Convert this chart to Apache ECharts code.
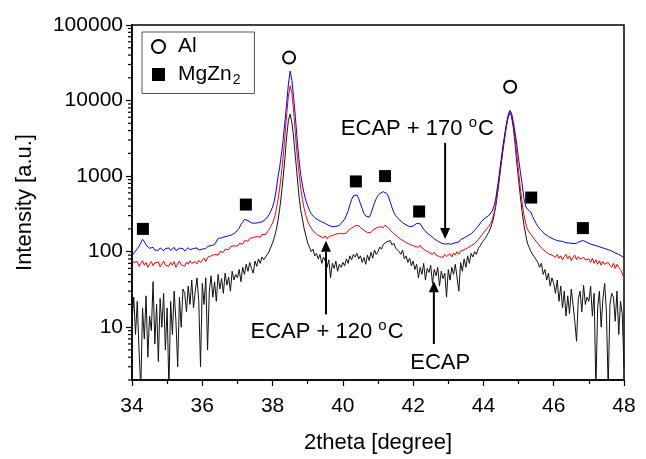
<!DOCTYPE html>
<html><head><meta charset="utf-8">
<script src="https://cdn.jsdelivr.net/npm/echarts@6/dist/echarts.min.js"></script>
<style>html,body{margin:0;padding:0;background:#fff}#c{width:646px;height:459px}</style>
</head><body><div id="c"></div>
<script>
// 2theta sampling grid
const xStart = 34, xStep = 0.05;

// ECAP + 170 oC (blue)
const ecap170 = [
 88,95,102,109,118,131,146,137,122,115,111,107,114,105,110,104,112,108,103,110,
 106,112,104,109,114,103,108,111,105,110,102,108,113,106,104,110,107,112,105,109,
 108,114,110,117,112,120,116,124,128,150,146,152,148,158,155,162,158,168,172,180,
 192,205,228,245,268,275,258,246,240,232,238,245,242,236,248,255,268,285,310,345,
 390,470,640,950,1300,1900,3000,5200,9000,16500,24500,18500,11000,6000,3000,1700,1050,760,580,470,
 405,352,318,305,282,278,262,268,248,252,236,240,222,230,214,224,216,228,222,238,
 245,268,302,348,418,492,548,572,562,505,432,372,322,296,282,286,318,378,442,502,
 552,588,608,622,612,588,528,452,382,330,302,284,266,254,242,232,226,218,214,212,
 218,228,236,247,234,222,198,190,176,172,163,160,148,147,138,138,130,133,126,131,
 127,129,126,131,132,136,134,144,143,152,154,162,161,172,176,192,198,217,230,252,
 265,280,290,300,315,345,400,500,720,1050,1600,2400,3400,4800,6300,7400,6800,5200,3800,2600,
 1700,1150,800,520,400,365,352,334,292,262,236,216,201,189,179,171,164,158,154,150,
 149,143,144,138,140,137,138,131,137,130,135,128,133,129,135,137,142,140,139,132,
 131,126,128,122,124,118,120,114,116,110,112,106,108,102,101,96,98,92,91,86,
 85
];

// ECAP + 120 oC (red)
const ecap120 = [
 78,72,68,74,64,70,76,66,72,62,68,74,65,71,67,73,63,69,75,66,
 70,64,72,66,74,62,69,75,67,71,64,73,68,76,70,66,74,69,77,72,
 76,82,74,84,80,88,84,92,96,90,100,104,98,108,112,106,116,112,120,124,
 118,128,134,126,140,146,138,150,144,154,148,158,164,156,170,176,168,184,196,215,
 240,280,350,470,680,1050,1800,3300,6400,11500,15700,12500,7000,3600,1900,1100,700,490,370,300,
 250,225,205,190,182,170,178,160,168,152,162,148,158,150,164,155,170,160,175,168,
 172,180,176,190,198,205,215,220,212,222,208,200,192,185,178,186,180,192,198,206,
 200,214,220,208,224,212,206,192,190,174,172,158,160,146,148,136,140,128,132,122,
 126,118,124,114,122,112,114,104,108,98,102,92,98,90,95,86,90,84,92,86,
 88,94,85,96,90,100,92,102,96,106,100,112,106,120,114,128,134,144,152,165,
 175,190,200,215,235,265,320,420,620,950,1450,2200,3200,4500,5900,6800,6300,4700,3100,1900,
 1150,700,450,310,240,200,182,170,160,146,142,128,126,112,116,102,106,94,98,90,
 90,84,92,82,88,78,86,92,80,88,76,84,90,78,86,80,76,84,78,74,
 80,72,82,70,78,68,76,66,74,68,64,72,66,62,70,60,68,62,58,56,
 45
];

// ECAP (black)
const ecap = [
 12,25,8,22,5,1.5,18,7,26,4,14,9,40,6,20,3.5,24,10,28,5,
 18,1.5,22,8,30,12,3,25,10,32,28,16,35,20,42,18,30,45,22,3,
 38,20,45,5,30,48,25,40,22,50,32,44,28,52,36,46,30,55,42,50,
 45,58,40,62,50,68,55,72,60,52,75,64,80,70,85,78,80,92,100,115,
 130,155,190,250,360,560,950,1700,3300,5400,6600,5100,3200,1800,1000,550,360,270,200,160,
 130,115,100,108,88,95,80,92,70,85,75,62,78,45,70,60,75,55,68,62,
 72,65,80,70,88,78,92,85,95,80,88,72,84,68,90,76,98,82,105,92,
 100,115,108,125,118,135,128,140,122,130,112,118,100,92,105,80,88,72,82,65,
 75,58,68,45,62,50,70,42,60,53,66,38,58,48,62,35,55,44,52,25,
 58,42,62,50,68,45,30,72,55,80,62,88,70,95,85,100,92,110,118,130,
 140,150,165,180,205,240,300,400,580,900,1400,2100,3100,4500,6000,7000,6200,4400,2700,1500,
 900,540,340,230,170,130,115,100,95,85,80,72,62,70,50,58,42,52,35,45,
 38,28,42,22,35,18,30,14,26,15,32,20,12,6.5,24,30,16,36,20,25,
 22,35,14,28,1.5,18,30,10,24,38,16,1.5,20,28,25,12,30,8,22,15,
 3
];

// reflection markers
const alPeaks = [[38.47, 37000], [44.76, 15200]];
const mgzn2Peaks = [[34.31, 200], [37.24, 420], [40.37, 850], [41.20, 1000], [42.17, 340], [45.36, 520], [46.83, 205]];

// minor ticks of the log axis
const yDecades = [1, 10, 100, 1000, 10000];
const yMultipliers = [2, 3, 4, 5, 6, 7, 8, 9];

// annotations (data coordinates)
const annotations = [
  {label: 'ECAP + 170 ', sup: true, x: 42.12, y: 4200, from: [42.91, 2750], to: [42.91, 147]},
  {label: 'ECAP + 120 ', sup: true, x: 39.55, y: 8.6, from: [39.52, 14.8], to: [39.52, 139]},
  {label: 'ECAP', sup: false, x: 42.77, y: 3.4, from: [42.59, 6.0], to: [42.59, 40.7]}
];

const FONT = '"Liberation Sans", Arial, Helvetica, sans-serif';
const xs = ecap170.map((_, i) => +(xStart + i * xStep).toFixed(2));
const pairs = arr => arr.map((v, i) => [xs[i], v]);
const yMinor = [];
yDecades.forEach(d => yMultipliers.forEach(m => yMinor.push(d * m)));

const chart = echarts.init(document.getElementById('c'));
const option = {
  animation: false,
  backgroundColor: '#fff',
  grid: {left: 132, right: 22, top: 25, bottom: 72, show: true, borderColor: '#000', borderWidth: 1.5, backgroundColor: 'transparent'},
  legend: {
    data: ['Al', 'MgZn2'], orient: 'vertical', left: 142, top: 32,
    padding: [4, 14, 6, 9], itemGap: 7, itemWidth: 13, itemHeight: 13,
    borderColor: '#555', borderWidth: 1, backgroundColor: '#fff',
    formatter: n => n === 'MgZn2' ? '{t|MgZn}{s|2}' : '{t|Al}',
    textStyle: {color: '#000', fontFamily: FONT, fontSize: 21, padding: [0, 0, 0, 8],
      rich: {t: {fontSize: 21, fontFamily: FONT, color: '#000', lineHeight: 24}, s: {fontSize: 14, fontFamily: FONT, color: '#000', padding: [12, 0, 0, 1]}}}
  },
  xAxis: {
    type: 'value', min: 34, max: 48, interval: 2,
    name: '2theta [degree]', nameLocation: 'middle', nameGap: 52,
    nameTextStyle: {fontSize: 22, fontFamily: FONT, color: '#000'},
    axisLine: {show: true, onZero: false, lineStyle: {color: '#000', width: 1.5}},
    axisTick: {show: true, inside: false, length: 6, lineStyle: {color: '#000', width: 1.2}},
    minorTick: {show: true, splitNumber: 2, length: 4, lineStyle: {color: '#000', width: 1.2}},
    axisLabel: {fontSize: 21, fontFamily: FONT, color: '#000', margin: 16},
    splitLine: {show: false}
  },
  yAxis: {
    type: 'log', logBase: 10, min: 2, max: 100000,
    name: 'Intensity [a.u.]', nameLocation: 'middle', nameGap: 96,
    nameTextStyle: {fontSize: 22, fontFamily: FONT, color: '#000'},
    axisLine: {show: true, lineStyle: {color: '#000', width: 1.5}},
    axisTick: {show: true, inside: false, length: 6, lineStyle: {color: '#000', width: 1.2}},
    axisLabel: {fontSize: 21, fontFamily: FONT, color: '#000', margin: 9, showMinLabel: false,
      formatter: v => String(Math.round(v))},
    splitLine: {show: false}
  },
  series: [
    {name: 'ECAP', type: 'line', data: pairs(ecap), symbol: 'none', lineStyle: {color: '#111', width: 1}, z: 2},
    {name: 'ECAP + 120', type: 'line', data: pairs(ecap120), symbol: 'none', lineStyle: {color: '#ff0000', width: 1}, z: 3},
    {name: 'ECAP + 170', type: 'line', data: pairs(ecap170), symbol: 'none', lineStyle: {color: '#0000ff', width: 1}, z: 4},
    {name: 'Al', type: 'scatter', data: alPeaks, symbol: 'emptyCircle', symbolSize: 12,
      itemStyle: {color: '#000', borderColor: '#000', borderWidth: 1.2, opacity: 1}, z: 6},
    {name: 'MgZn2', type: 'scatter', data: mgzn2Peaks, symbol: 'rect', symbolSize: 12,
      itemStyle: {color: '#000', opacity: 1}, z: 6},
    {name: 'minor', type: 'custom', silent: true, clip: false, z: 10, data: yMinor.map(v => [34, v]),
      renderItem: (params, api) => {
        const p = api.coord([api.value(0), api.value(1)]);
        return {type: 'line', shape: {x1: p[0] - 4, y1: p[1], x2: p[0], y2: p[1]}, style: {stroke: '#000', lineWidth: 1.2}};
      }}
  ]
};
chart.setOption(option);

const px = (x, y) => chart.convertToPixel({gridIndex: 0}, [x, y]);
const graphics = [];
annotations.forEach(a => {
  const p = px(a.x, a.y);
  const txt = a.sup ? '{a|' + a.label + '}{s|o}{a|C}' : '{a|' + a.label + '}';
  graphics.push({type: 'text', x: p[0], y: p[1], z: 20,
    style: {text: txt, align: 'center', verticalAlign: 'middle',
      rich: {a: {fontSize: 22, fontFamily: FONT, fill: '#000'}, s: {fontSize: 15, fontFamily: FONT, fill: '#000', padding: [0, 1, 12, 0]}}}});
  const f = px(a.from[0], a.from[1]);
  const t = px(a.to[0], a.to[1]);
  const dx = t[0] - f[0], dy = t[1] - f[1];
  const len = Math.sqrt(dx * dx + dy * dy), ux = dx / len, uy = dy / len;
  const hl = 11, hw = 5;
  const bx = t[0] - ux * hl, by = t[1] - uy * hl;
  graphics.push({type: 'line', z: 20, shape: {x1: f[0], y1: f[1], x2: bx, y2: by}, style: {stroke: '#000', lineWidth: 2}});
  graphics.push({type: 'polygon', z: 20, shape: {points: [[t[0], t[1]], [bx - uy * hw, by + ux * hw], [bx + uy * hw, by - ux * hw]]}, style: {fill: '#000'}});
});
chart.setOption({graphic: graphics});
</script></body></html>
